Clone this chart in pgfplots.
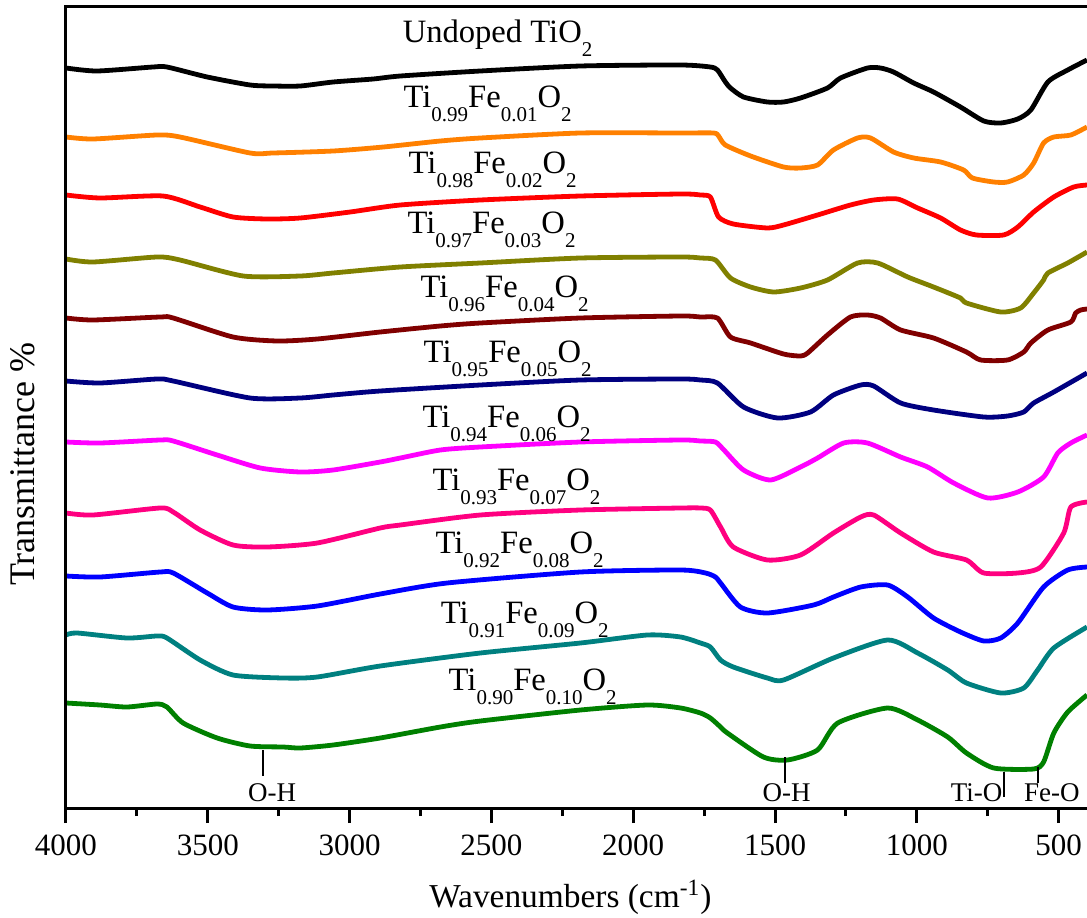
\documentclass[border=0pt]{standalone}
\usepackage{fontspec}
\setmainfont{Liberation Serif}
\usepackage{pgfplots}
\pgfplotsset{compat=1.18}
\definecolor{cOrange}{RGB}{255,128,0}
\definecolor{cOlive}{RGB}{128,128,0}
\definecolor{cMaroon}{RGB}{128,0,0}
\definecolor{cNavy}{RGB}{0,0,128}
\definecolor{cMagenta}{RGB}{255,0,255}
\definecolor{cPink}{RGB}{255,0,128}
\definecolor{cBlue}{RGB}{0,0,255}
\definecolor{cTeal}{RGB}{0,128,128}
\definecolor{cGreen}{RGB}{0,128,0}
\newcommand\sub[1]{\raisebox{-7pt}{\fontsize{10.5}{11}\selectfont #1}}
\begin{document}
\begin{tikzpicture}
\begin{axis}[
  scale only axis, width=510.5pt, height=400.5pt,
  x dir=reverse, xmin=400, xmax=4000,
  ymin=-808, ymax=-7,
  axis line style={draw=none},
  xtick={500,1000,1500,2000,2500,3000,3500,4000},
  minor x tick num=1,
  xtick pos=left, tick align=outside,
  major tick length=7.5pt, minor tick length=4pt,
  every tick/.style={black, line width=1.5pt},
  ytick=\empty,
  /pgf/number format/assume math mode=true,
  /pgf/number format/1000 sep={},
  xticklabel style={font=\fontsize{15.5}{16}\selectfont, anchor=base, yshift=-16pt},
  xlabel={Wavenumbers (cm\textsuperscript{-1})},
  ylabel={Transmittance \%},
  xlabel style={font=\fontsize{16.7}{18}\selectfont, at={(axis description cs:0.494,-0.1248)}, anchor=base},
  ylabel style={font=\fontsize{18}{19}\selectfont, at={(axis description cs:-0.0304,0.4295)}, anchor=base},
  clip mode=individual,
  every axis plot/.append style={line width=2.4pt, smooth, tension=0.4, line join=round},
]
% Undoped
\addplot[black] coordinates {(4000,-68)(3891,-71)(3693,-67)(3644,-67)(3502,-77)(3351,-85)(3270,-86)(3174,-86)(3058,-82)(2917,-79)(2821,-76)(2539,-71)(2186,-66)(1833,-65)(1728,-67)(1703,-70)(1675,-82)(1657,-88)(1611,-97)(1527,-102)(1470,-102)(1410,-98)(1315,-88)(1269,-78)(1174,-68)(1128,-68)(1082,-72)(1011,-83)(941,-92)(846,-107)(764,-121)(704,-123)(644,-119)(598,-110)(538,-82)(468,-70)(400,-60)};
% 0.99
\addplot[cOrange] coordinates {(4000,-137)(3905,-139)(3679,-135)(3598,-137)(3351,-153)(3270,-153)(3058,-151)(2881,-147)(2680,-141)(2539,-138)(2186,-133)(1833,-133)(1717,-133)(1699,-136)(1675,-145)(1586,-156)(1470,-167)(1410,-168)(1350,-165)(1294,-150)(1209,-138)(1163,-138)(1082,-152)(1011,-158)(916,-162)(835,-170)(804,-178)(729,-182)(680,-182)(623,-175)(588,-163)(553,-143)(517,-137)(457,-135)(400,-127)};
% 0.98
\addplot[red] coordinates {(4000,-195)(3880,-198)(3658,-196)(3527,-207)(3411,-217)(3291,-219)(3174,-218)(2998,-212)(2821,-205)(2539,-200)(2186,-196)(1833,-194)(1763,-195)(1728,-197)(1699,-217)(1647,-224)(1527,-228)(1470,-225)(1350,-215)(1234,-205)(1152,-200)(1068,-199)(997,-208)(916,-218)(846,-230)(790,-235)(694,-235)(644,-227)(588,-212)(517,-197)(447,-187)(400,-185)};
% 0.97
\addplot[cOlive] coordinates {(4000,-259)(3905,-262)(3679,-257)(3598,-260)(3375,-276)(3174,-276)(3058,-273)(2821,-267)(2539,-263)(2186,-258)(1833,-257)(1763,-258)(1710,-260)(1657,-278)(1586,-287)(1505,-292)(1410,-288)(1315,-280)(1209,-263)(1138,-263)(1032,-277)(941,-287)(846,-298)(825,-303)(704,-312)(634,-308)(588,-293)(553,-280)(538,-273)(468,-263)(400,-252)};
% 0.96
\addplot[cMaroon] coordinates {(4000,-318)(3905,-320)(3668,-317)(3622,-318)(3411,-337)(3255,-341)(3114,-339)(2892,-332)(2680,-326)(2539,-323)(2186,-318)(1833,-316)(1763,-317)(1703,-318)(1657,-337)(1586,-343)(1470,-354)(1410,-356)(1385,-353)(1315,-335)(1234,-317)(1174,-315)(1128,-318)(1057,-330)(941,-338)(825,-352)(775,-360)(680,-360)(623,-352)(598,-343)(538,-330)(457,-322)(440,-313)(422,-310)(400,-309)};
% 0.95
\addplot[cNavy] coordinates {(4000,-381)(3880,-383)(3679,-379)(3622,-381)(3351,-398)(3174,-398)(3058,-395)(2892,-391)(2539,-385)(2186,-380)(1833,-379)(1763,-380)(1703,-383)(1611,-407)(1491,-418)(1375,-412)(1294,-395)(1198,-385)(1152,-386)(1057,-403)(941,-410)(764,-417)(680,-416)(623,-412)(588,-403)(517,-392)(400,-373)};
% 0.94
\addplot[cMagenta] coordinates {(4000,-442)(3880,-443)(3668,-440)(3622,-441)(3467,-455)(3315,-468)(3174,-472)(3058,-470)(2892,-462)(2821,-458)(2680,-450)(2539,-447)(2186,-442)(1833,-440)(1763,-441)(1710,-442)(1680,-450)(1611,-470)(1516,-480)(1410,-467)(1350,-458)(1258,-443)(1174,-443)(1057,-457)(962,-467)(870,-483)(750,-498)(644,-492)(553,-477)(503,-453)(457,-443)(400,-435)};
% 0.93
\addplot[cPink] coordinates {(4000,-513)(3905,-515)(3668,-508)(3622,-512)(3527,-530)(3411,-545)(3291,-547)(3114,-543)(2892,-528)(2821,-525)(2539,-515)(2186,-510)(1833,-508)(1763,-508)(1728,-510)(1692,-527)(1647,-547)(1527,-560)(1410,-555)(1294,-533)(1198,-517)(1152,-515)(1057,-533)(941,-552)(825,-560)(764,-573)(644,-573)(563,-567)(482,-533)(457,-507)(400,-502)};
% 0.92
\addplot[cBlue] coordinates {(4000,-576)(3880,-577)(3668,-572)(3622,-573)(3502,-593)(3411,-607)(3291,-610)(3114,-606)(2892,-594)(2656,-583)(2186,-572)(1833,-570)(1745,-573)(1710,-577)(1692,-583)(1622,-607)(1527,-613)(1364,-605)(1294,-597)(1198,-587)(1103,-585)(1032,-597)(941,-618)(846,-632)(764,-641)(704,-638)(644,-623)(553,-587)(468,-570)(400,-567)};
% 0.91
\addplot[cTeal] coordinates {(4000,-635)(3961,-633)(3785,-638)(3679,-636)(3644,-638)(3527,-660)(3411,-675)(3234,-678)(3114,-677)(2892,-666)(2539,-653)(2186,-643)(1950,-635)(1833,-637)(1763,-643)(1728,-647)(1692,-660)(1647,-667)(1527,-678)(1470,-680)(1294,-658)(1103,-640)(997,-653)(891,-670)(825,-683)(704,-693)(623,-688)(574,-670)(517,-648)(400,-627)};
% 0.90
\addplot[cGreen] coordinates {(4000,-703)(3880,-705)(3785,-707)(3679,-704)(3644,-707)(3587,-723)(3467,-738)(3351,-746)(3234,-747)(3174,-748)(3058,-745)(2892,-738)(2680,-727)(2539,-721)(2186,-710)(1950,-705)(1833,-708)(1763,-713)(1728,-718)(1692,-727)(1668,-733)(1541,-757)(1456,-760)(1350,-750)(1279,-723)(1103,-708)(997,-720)(891,-737)(825,-753)(729,-768)(588,-769)(553,-762)(517,-733)(468,-712)(400,-695)};
% frame
\draw[line width=1.5pt, line join=miter] (axis cs:400,-7) -- (axis cs:4000,-7) -- (axis cs:4000,-808) -- (axis cs:400,-808);
\coordinate (BL) at (axis cs:4000,-808);
\coordinate (TR) at (axis cs:400,-7);
% labels
\begin{scope}[every node/.style={anchor=base west, inner sep=0pt, font=\fontsize{16.3}{18}\selectfont}]
\node at (axis cs:2814,-43) {Undoped TiO\sub{2}};
\node at (axis cs:2811,-108) {Ti\sub{0.99}Fe\sub{0.01}O\sub{2}};
\node at (axis cs:2793,-173) {Ti\sub{0.98}Fe\sub{0.02}O\sub{2}};
\node at (axis cs:2797,-233) {Ti\sub{0.97}Fe\sub{0.03}O\sub{2}};
\node at (axis cs:2751,-297) {Ti\sub{0.96}Fe\sub{0.04}O\sub{2}};
\node at (axis cs:2740,-362) {Ti\sub{0.95}Fe\sub{0.05}O\sub{2}};
\node at (axis cs:2744,-427) {Ti\sub{0.94}Fe\sub{0.06}O\sub{2}};
\node at (axis cs:2709,-490) {Ti\sub{0.93}Fe\sub{0.07}O\sub{2}};
\node at (axis cs:2698,-553) {Ti\sub{0.92}Fe\sub{0.08}O\sub{2}};
\node at (axis cs:2680,-623) {Ti\sub{0.91}Fe\sub{0.09}O\sub{2}};
\node at (axis cs:2652,-690) {Ti\sub{0.90}Fe\sub{0.10}O\sub{2}};
\end{scope}
% band annotations
\draw[line width=1pt] (axis cs:3305,-750) -- (axis cs:3305,-776);
\draw[line width=1pt] (axis cs:1466,-757) -- (axis cs:1466,-783);
\draw[line width=1pt] (axis cs:694,-772) -- (axis cs:694,-797);
\draw[line width=1pt] (axis cs:574,-767) -- (axis cs:574,-783);
\begin{scope}[every node/.style={inner sep=0pt, font=\fontsize{13.5}{14}\selectfont}]
\node[anchor=base] at (axis cs:3273,-801) {O-H};
\node[anchor=base] at (axis cs:1459,-801) {O-H};
\node[anchor=base east] at (axis cs:697,-801) {Ti-O};
\node[anchor=base] at (axis cs:524,-801) {Fe-O};
\end{scope}
\end{axis}
\pgfresetboundingbox
\path[use as bounding box] ([shift={(-33pt,-54.5pt)}]BL) rectangle ([shift={(0pt,3.5pt)}]TR);
\end{tikzpicture}
\end{document}
